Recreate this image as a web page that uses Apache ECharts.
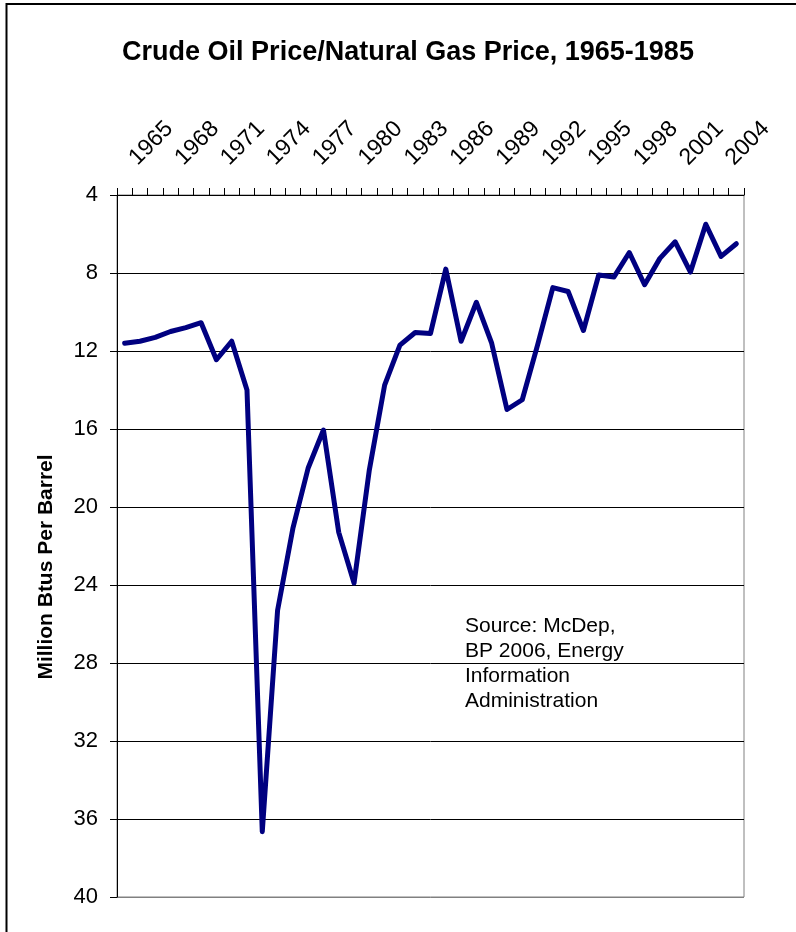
<!DOCTYPE html>
<html>
<head>
<meta charset="utf-8">
<script src="https://cdn.jsdelivr.net/npm/echarts@6/dist/echarts.min.js"></script>
<style>
html,body{margin:0;padding:0;background:#fff;}
#chart{width:796px;height:932px;}
</style>
</head>
<body>
<div id="chart"></div>
<script>
const years = ['1965','1966','1967','1968','1969','1970','1971','1972','1973','1974',
  '1975','1976','1977','1978','1979','1980','1981','1982','1983','1984',
  '1985','1986','1987','1988','1989','1990','1991','1992','1993','1994',
  '1995','1996','1997','1998','1999','2000','2001','2002','2003','2004','2005'];
const ratio = [11.6,11.5,11.3,11.0,10.8,10.55,12.45,11.5,14.0,36.65,
  25.3,21.1,18.0,16.05,21.3,23.9,18.1,13.75,11.7,11.05,
  11.1,7.8,11.5,9.5,11.6,15.0,14.5,11.7,8.75,8.95,
  10.95,8.1,8.2,6.95,8.6,7.25,6.4,7.95,5.5,7.15,6.5];
const titleText = 'Crude Oil Price/Natural Gas Price, 1965-1985';
const yAxisName = 'Million Btus Per Barrel';
const sourceLines = ['Source: McDep,', 'BP 2006, Energy', 'Information', 'Administration'];

const FONT = '"Liberation Sans", Arial, sans-serif';
const chart = echarts.init(document.getElementById('chart'));
chart.setOption({
  animation: false,
  backgroundColor: '#fff',
  title: {
    text: titleText,
    left: 403, top: 34, textAlign: 'center',
    textStyle: {fontFamily: FONT, fontSize: 27, fontWeight: 'bold', color: '#000'}
  },
  grid: {
    left: 117, right: 52, top: 195, bottom: 35,
    show: true, borderColor: '#808080', borderWidth: 1, backgroundColor: 'transparent'
  },
  xAxis: {
    type: 'category',
    data: years,
    position: 'top',
    boundaryGap: true,
    axisLine: {show: true, lineStyle: {color: '#000', width: 1}},
    axisTick: {show: true, interval: 0, length: 7, lineStyle: {color: '#000'}},
    axisLabel: {
      interval: 2, rotate: -45, margin: 25,
      padding: [24, 0, 0, 12],
      fontFamily: FONT, fontSize: 23, color: '#000'
    },
    splitLine: {show: false}
  },
  yAxis: {
    type: 'value',
    inverse: true,
    min: 4, max: 40, interval: 4,
    name: yAxisName,
    nameLocation: 'middle',
    nameGap: 60,
    nameTextStyle: {fontFamily: FONT, fontSize: 21, fontWeight: 'bold', color: '#000', padding: [0, 42, 0, 0]},
    axisLine: {show: true, lineStyle: {color: '#000', width: 1}},
    axisTick: {show: true, length: 7, lineStyle: {color: '#000'}},
    axisLabel: {margin: 19, fontFamily: FONT, fontSize: 22, color: '#000'},
    splitLine: {show: true, lineStyle: {color: ['#000','#000','#000','#000','#000','#000','#000','#000','#000','#808080'], width: 1}}
  },
  series: [{
    type: 'line',
    data: ratio,
    symbol: 'none',
    lineStyle: {color: '#000080', width: 5, join: 'round', cap: 'round'},
    itemStyle: {color: '#000080'}
  }],
  graphic: [
    {
      type: 'rect', silent: true, z: 100,
      shape: {x: 6.5, y: 4, width: 900, height: 1000},
      style: {fill: 'none', stroke: '#000', lineWidth: 2}
    },
    {
      type: 'text', silent: true, z: 100,
      left: 465, top: 614,
      style: {
        text: sourceLines.join('\n'),
        font: '21px ' + FONT,
        lineHeight: 25,
        fill: '#000'
      }
    }
  ]
});
</script>
</body>
</html>
